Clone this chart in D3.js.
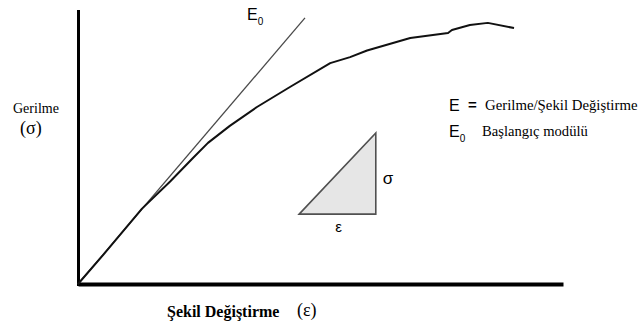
<!DOCTYPE html>
<html>
<head>
<meta charset="utf-8">
<script src="https://cdn.jsdelivr.net/npm/d3@7"></script>
<style>
  html, body { margin: 0; padding: 0; background: #fff; }
  svg { display: block; }
</style>
</head>
<body>
<svg id="chart" width="638" height="325"></svg>
<script>
// Stress–strain curve (strain, stress) in relative units 0–100
const strain = [0, 5.2, 13.2, 19.0, 23.7, 26.8, 31.3, 36.9, 43.7, 52.0, 56.1, 59.6, 68.5, 76.3, 77.1, 80.8, 84.5, 89.9];
const stress = [0, 10.6, 27.5, 37.4, 46.0, 51.5, 57.7, 64.6, 71.9, 80.6, 82.8, 85.2, 89.8, 91.6, 92.7, 94.5, 95.3, 93.4];

// Initial tangent (E0) from the origin
const tangentStrain = [0, 46.8];
const tangentStress = [0, 97.1];

// Slope triangle: ε along the base, σ up the side
const triStrain = [45.6, 61.4, 61.4];
const triStress = [25.5, 55.1, 25.5];

const SERIF = '"Liberation Serif", "DejaVu Serif", "Times New Roman", serif';
const SANS = '"Liberation Sans", Arial, sans-serif';

const svg = d3.select("#chart");
const x = d3.scaleLinear().domain([0, 100]).range([78, 563]);
const y = d3.scaleLinear().domain([0, 100]).range([284, 10]);

// Axes: plain heavy lines, no ticks
const xAxis = svg.append("g").attr("transform", `translate(0,${y(0)})`)
  .call(d3.axisBottom(x).tickValues([]).tickSizeOuter(0));
xAxis.select(".domain").attr("stroke", "#000").attr("stroke-width", 4);

const yAxis = svg.append("g").attr("transform", `translate(${x(0)},0)`)
  .call(d3.axisLeft(y).tickValues([]).tickSizeOuter(0));
yAxis.select(".domain").attr("stroke", "#000").attr("stroke-width", 3)
  .attr("d", `M0.5,${y(0) + 2}V${y(100)}`);

const line = d3.line().x(d => x(d[0])).y(d => y(d[1]));

// Tangent line
svg.append("path")
  .datum(d3.zip(tangentStrain, tangentStress))
  .attr("d", line)
  .attr("fill", "none")
  .attr("stroke", "#4a4a4a")
  .attr("stroke-width", 1.3);

// Stress–strain curve
svg.append("path")
  .datum(d3.zip(strain, stress))
  .attr("d", line)
  .attr("fill", "none")
  .attr("stroke", "#111")
  .attr("stroke-width", 2)
  .attr("stroke-linejoin", "round");

// Slope triangle
svg.append("path")
  .datum(d3.zip(triStrain, triStress))
  .attr("d", d => line(d) + "Z")
  .attr("fill", "#e6e6e6")
  .attr("stroke", "#505050")
  .attr("stroke-width", 1.6);

svg.append("text").style("font-family", SANS)
  .attr("x", x(61.4) + 7).attr("y", 184)
  .attr("font-size", 17).text("σ");
svg.append("text").style("font-family", SANS)
  .attr("x", (x(45.6) + x(61.4)) / 2 + 1).attr("y", 232)
  .attr("font-size", 15).attr("text-anchor", "middle").text("ε");

// E0 label at the tangent tip
const e0 = svg.append("text").style("font-family", SANS).attr("x", 247).attr("y", 20).attr("font-size", 16);
e0.append("tspan").text("E");
e0.append("tspan").attr("font-size", 10).attr("dy", 5).text("0");

// Axis titles
svg.append("text").style("font-family", SERIF)
  .attr("x", 13).attr("y", 113).attr("font-size", 14).text("Gerilme");
svg.append("text").style("font-family", SERIF)
  .attr("x", 20).attr("y", 134).attr("font-size", 18).text("(σ)");
svg.append("text").style("font-family", SERIF)
  .attr("x", 167).attr("y", 317).attr("font-size", 16).attr("font-weight", "bold").text("Şekil Değiştirme");
svg.append("text").style("font-family", SERIF)
  .attr("x", 297).attr("y", 316).attr("font-size", 18).text("(ε)");

// Legend
svg.append("text").style("font-family", SANS)
  .attr("x", 449).attr("y", 111).attr("font-size", 16).text("E");
svg.append("text").style("font-family", SANS)
  .attr("x", 468).attr("y", 110).attr("font-size", 15).attr("font-weight", "bold").text("=");
svg.append("text").style("font-family", SERIF)
  .attr("x", 485).attr("y", 110).attr("font-size", 14.8).text("Gerilme/Şekil Değiştirme");
const e0l = svg.append("text").style("font-family", SANS).attr("x", 449).attr("y", 137).attr("font-size", 16);
e0l.append("tspan").text("E");
e0l.append("tspan").attr("font-size", 10).attr("dy", 5).text("0");
svg.append("text").style("font-family", SERIF)
  .attr("x", 482).attr("y", 136).attr("font-size", 14.6).text("Başlangıç modülü");
</script>
</body>
</html>
